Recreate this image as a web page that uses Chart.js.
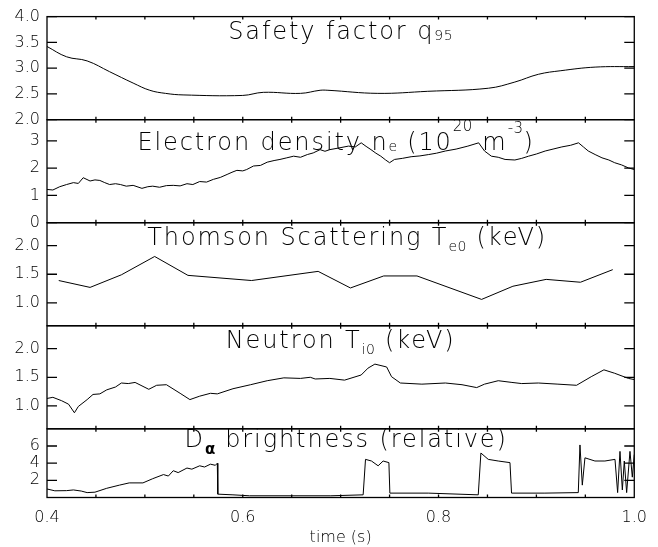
<!DOCTYPE html>
<html>
<head>
<meta charset="utf-8">
<script src="https://cdn.jsdelivr.net/npm/chart.js@4"></script>
<style>
  html, body { margin: 0; padding: 0; background: #fff; }
  canvas { display: block; }
</style>
</head>
<body>
<canvas id="shot" width="658" height="547"></canvas>
<script>
// time axis (s)
var timeTicks = [0.4, 0.6, 0.8, 1.0];
var timeMinorTicks = [0.45, 0.5, 0.55, 0.6, 0.65, 0.7, 0.75, 0.8, 0.85, 0.9, 0.95];

// safety factor q95
var q95Time = [0.400, 0.420, 0.441, 0.464, 0.488, 0.505, 0.521, 0.539, 0.600, 0.621, 0.659, 0.679, 0.687, 0.738, 0.789, 0.851, 0.878, 0.902, 0.925, 0.960, 1.000];
var q95 = [3.42, 3.22, 3.14, 2.93, 2.71, 2.57, 2.51, 2.48, 2.47, 2.53, 2.51, 2.57, 2.57, 2.51, 2.55, 2.61, 2.73, 2.88, 2.95, 3.02, 3.03];
var q95Ticks = [2.0, 2.5, 3.0, 3.5, 4.0];

// electron density (1e20 m^-3)
var neTime = [0.400, 0.406, 0.413, 0.420, 0.427, 0.432, 0.437, 0.444, 0.449, 0.454, 0.459, 0.464, 0.470, 0.475, 0.481, 0.488, 0.497, 0.503, 0.508, 0.515, 0.522, 0.529, 0.536, 0.543, 0.549, 0.556, 0.563, 0.570, 0.577, 0.584, 0.589, 0.594, 0.600, 0.604, 0.611, 0.618, 0.625, 0.632, 0.638, 0.645, 0.652, 0.659, 0.666, 0.672, 0.679, 0.684, 0.689, 0.698, 0.708, 0.715, 0.721, 0.726, 0.731, 0.736, 0.741, 0.746, 0.750, 0.755, 0.763, 0.772, 0.781, 0.790, 0.798, 0.807, 0.818, 0.830, 0.841, 0.847, 0.854, 0.861, 0.868, 0.878, 0.885, 0.892, 0.900, 0.909, 0.917, 0.926, 0.935, 0.943, 0.948, 0.953, 0.960, 0.967, 0.974, 0.980, 0.987, 0.994, 1.000];
var ne = [1.22, 1.20, 1.32, 1.40, 1.47, 1.44, 1.65, 1.53, 1.57, 1.55, 1.47, 1.40, 1.43, 1.40, 1.34, 1.37, 1.26, 1.32, 1.34, 1.30, 1.36, 1.37, 1.35, 1.43, 1.40, 1.51, 1.49, 1.59, 1.66, 1.77, 1.85, 1.92, 1.90, 1.95, 2.08, 2.10, 2.22, 2.28, 2.32, 2.38, 2.44, 2.40, 2.50, 2.56, 2.68, 2.62, 2.68, 2.74, 2.81, 2.78, 2.93, 2.80, 2.68, 2.55, 2.44, 2.30, 2.20, 2.32, 2.36, 2.42, 2.45, 2.50, 2.55, 2.63, 2.70, 2.81, 2.93, 2.63, 2.44, 2.40, 2.32, 2.30, 2.36, 2.44, 2.52, 2.63, 2.70, 2.78, 2.84, 2.93, 2.78, 2.63, 2.50, 2.38, 2.30, 2.20, 2.12, 2.01, 1.95];
var neTicks = [0, 1, 2, 3];

// Thomson scattering Te0 (keV)
var teTime = [0.412, 0.444, 0.476, 0.510, 0.544, 0.609, 0.677, 0.710, 0.744, 0.778, 0.844, 0.876, 0.910, 0.945, 0.978];
var te = [1.39, 1.27, 1.49, 1.81, 1.48, 1.39, 1.55, 1.26, 1.47, 1.47, 1.06, 1.29, 1.41, 1.36, 1.58];
var teTicks = [1.0, 1.5, 2.0];

// neutron Ti0 (keV)
var tiTime = [0.400, 0.406, 0.415, 0.422, 0.428, 0.432, 0.441, 0.447, 0.454, 0.461, 0.470, 0.476, 0.483, 0.490, 0.504, 0.512, 0.522, 0.536, 0.546, 0.556, 0.567, 0.574, 0.590, 0.608, 0.625, 0.642, 0.659, 0.669, 0.674, 0.689, 0.704, 0.721, 0.728, 0.735, 0.747, 0.752, 0.761, 0.783, 0.807, 0.824, 0.839, 0.847, 0.861, 0.875, 0.885, 0.902, 0.922, 0.941, 0.956, 0.969, 0.980, 0.994, 1.000];
var ti = [1.13, 1.15, 1.09, 1.03, 0.88, 0.99, 1.11, 1.20, 1.21, 1.28, 1.33, 1.40, 1.39, 1.41, 1.29, 1.36, 1.37, 1.22, 1.11, 1.17, 1.22, 1.21, 1.30, 1.37, 1.44, 1.49, 1.48, 1.50, 1.47, 1.48, 1.45, 1.54, 1.66, 1.73, 1.68, 1.51, 1.40, 1.38, 1.40, 1.37, 1.32, 1.38, 1.44, 1.41, 1.39, 1.40, 1.38, 1.36, 1.51, 1.63, 1.57, 1.48, 1.46];
var tiTicks = [1.0, 1.5, 2.0];

// D-alpha brightness (relative)
var daTime = [0.400, 0.408, 0.420, 0.427, 0.435, 0.441, 0.449, 0.461, 0.474, 0.484, 0.498, 0.508, 0.519, 0.524, 0.529, 0.534, 0.543, 0.548, 0.556, 0.561, 0.567, 0.572, 0.574, 0.5745, 0.590, 0.607, 0.690, 0.723, 0.7254, 0.7315, 0.7383, 0.7434, 0.7493, 0.7503, 0.7895, 0.8406, 0.8433, 0.8508, 0.861, 0.873, 0.8746, 0.9087, 0.9428, 0.9445, 0.9469, 0.9496, 0.9598, 0.970, 0.9803, 0.983, 0.9854, 0.9878, 0.9898, 0.9922, 0.9956, 0.998, 1.000];
var da = [0.99, 0.78, 0.80, 0.88, 0.75, 0.57, 0.62, 1.07, 1.44, 1.70, 1.70, 2.19, 2.67, 2.50, 3.12, 2.90, 3.43, 3.30, 3.69, 3.55, 3.88, 3.75, 3.99, 0.39, 0.31, 0.20, 0.20, 0.31, 4.44, 4.25, 3.69, 4.25, 4.06, 0.51, 0.51, 0.31, 5.18, 4.44, 4.25, 4.06, 0.51, 0.51, 0.57, 6.12, 1.44, 4.62, 4.25, 4.25, 4.44, 0.57, 5.37, 0.88, 4.25, 0.57, 5.37, 2.37, 5.00];
var daTicks = [2, 4, 6];

var FONT = 'DejaVu Sans';

function pts(xs, ys) {
  return xs.map(function (t, i) { return {x: t, y: ys[i]}; });
}

function line(xs, ys, axis, tension) {
  return {
    data: pts(xs, ys),
    yAxisID: axis,
    borderColor: '#000',
    borderWidth: 1,
    pointRadius: 0,
    tension: tension || 0,
    fill: false
  };
}

function yAxis(min, max, ticks, order, share, digits) {
  return {
    type: 'linear',
    position: 'left',
    stack: 'shot',
    stackWeight: share,
    weight: order,
    bounds: 'data',
    min: min,
    max: max,
    grid: {display: false, drawTicks: false, tickLength: 0},
    border: {display: false},
    afterBuildTicks: function (s) { s.ticks = ticks.map(function (v) { return {value: v}; }); },
    afterFit: function (s) { s.width = 47; },
    ticks: {
      color: '#000',
      padding: 7,
      autoSkip: false,
      font: {family: FONT, size: 16, weight: 200},
      callback: function (v) { return Number(v).toFixed(digits); }
    }
  };
}

// panel titles with sub/superscripts
var panelTitles = {
  yq: {dx: 0, dy: 22, parts: [['Safety factor q'], ['95', 'sub', 1]]},
  yn: {dx: -4.5, dy: 30, parts: [['Electron density n'], ['e', 'sub', 1]
    , [' (10'], ['20', 'sup', -19], [' m'], ['-3', 'sup', -17], [')']]},
  yt: {dx: 6.5, dy: 22.4, parts: [['Thomson Scattering T'], ['e0', 'sub', 6], [' (keV)']]},
  yi: {dx: 0, dy: 22, parts: [['Neutron T'], ['i0', 'sub', 6], [' (keV)']]},
  yd: {dx: 5.5, dy: 17.7, parts: [['D'], ['\u03b1', 'alpha', 7], [' brightness (relative)']]}
};

function partFont(kind) {
  if (kind === 'sub') return '200 14px "' + FONT + '"';
  if (kind === 'sup') return '200 15px "' + FONT + '"';
  if (kind === 'alpha') return 'bold 15px "' + FONT + '"';
  return '200 24px "' + FONT + '"';
}

function partSpacing(kind) {
  return kind ? '0.5px' : '1.9px';
}

var framePlugin = {
  id: 'frame',
  afterDatasetsDraw: function (chart) {
    var ctx = chart.ctx, a = chart.chartArea, xs = chart.scales.x;
    ctx.save();
    ctx.strokeStyle = '#000';
    ctx.fillStyle = '#000';
    ctx.lineWidth = 1.3;
    Object.keys(panelTitles).forEach(function (id) {
      var s = chart.scales[id];
      ctx.strokeRect(a.left, s.top, a.right - a.left, s.bottom - s.top);
      ctx.beginPath();
      s.ticks.forEach(function (t) {
        var py = s.getPixelForValue(t.value);
        ctx.moveTo(a.left, py); ctx.lineTo(a.left + 10, py);
        ctx.moveTo(a.right, py); ctx.lineTo(a.right - 10, py);
      });
      timeMinorTicks.forEach(function (v) {
        var px = xs.getPixelForValue(v);
        ctx.moveTo(px, s.top); ctx.lineTo(px, s.top + 3);
        ctx.moveTo(px, s.bottom); ctx.lineTo(px, s.bottom - 3);
      });
      ctx.stroke();

      var title = panelTitles[id];
      ctx.textAlign = 'left';
      ctx.textBaseline = 'alphabetic';
      var w = 0;
      title.parts.forEach(function (p) {
        ctx.font = partFont(p[1]);
        ctx.letterSpacing = partSpacing(p[1]);
        w += ctx.measureText(p[0]).width;
      });
      var x = (a.left + a.right) / 2 + title.dx - w / 2;
      var y = s.top + title.dy;
      title.parts.forEach(function (p) {
        ctx.font = partFont(p[1]);
        ctx.letterSpacing = partSpacing(p[1]);
        ctx.fillText(p[0], x, y + (p[2] || 0));
        x += ctx.measureText(p[0]).width;
      });
    });
    ctx.restore();
  }
};

new Chart(document.getElementById('shot').getContext('2d'), {
  type: 'line',
  data: {
    datasets: [
      line(q95Time, q95, 'yq', 0.4),
      line(neTime, ne, 'yn'),
      line(teTime, te, 'yt'),
      line(tiTime, ti, 'yi'),
      line(daTime, da, 'yd')
    ]
  },
  options: {
    responsive: false,
    animation: false,
    devicePixelRatio: 1,
    layout: {padding: {top: 13, right: 23.5, left: 0, bottom: 0}},
    plugins: {legend: {display: false}, tooltip: {enabled: false}},
    scales: {
      x: {
        type: 'linear',
        position: 'bottom',
        bounds: 'data',
        min: 0.4,
        max: 1.0,
        grid: {display: false, drawTicks: false, tickLength: 0},
        border: {display: false},
        afterBuildTicks: function (s) { s.ticks = timeTicks.map(function (v) { return {value: v}; }); },
        afterFit: function (s) { s.height = 49.5; },
        ticks: {
          color: '#000',
          padding: 11,
          maxRotation: 0,
          autoSkip: false,
          font: {family: FONT, size: 16, weight: 200},
          callback: function (v) { return Number(v).toFixed(1); }
        },
        title: {
          display: true,
          text: 'time (s)',
          color: '#000',
          font: {family: FONT, size: 16, weight: 200},
          padding: {top: 0, bottom: 0}
        }
      },
      yq: yAxis(2, 4, q95Ticks, 5, 3, 1),
      yn: yAxis(0, 3.78, neTicks, 4, 3, 0),
      yt: yAxis(0.6, 2.4, teTicks, 3, 3, 1),
      yi: yAxis(0.6, 2.4, tiTicks, 2, 3, 1),
      yd: yAxis(0, 8, daTicks, 1, 2, 0)
    }
  },
  plugins: [framePlugin]
});
</script>
</body>
</html>
